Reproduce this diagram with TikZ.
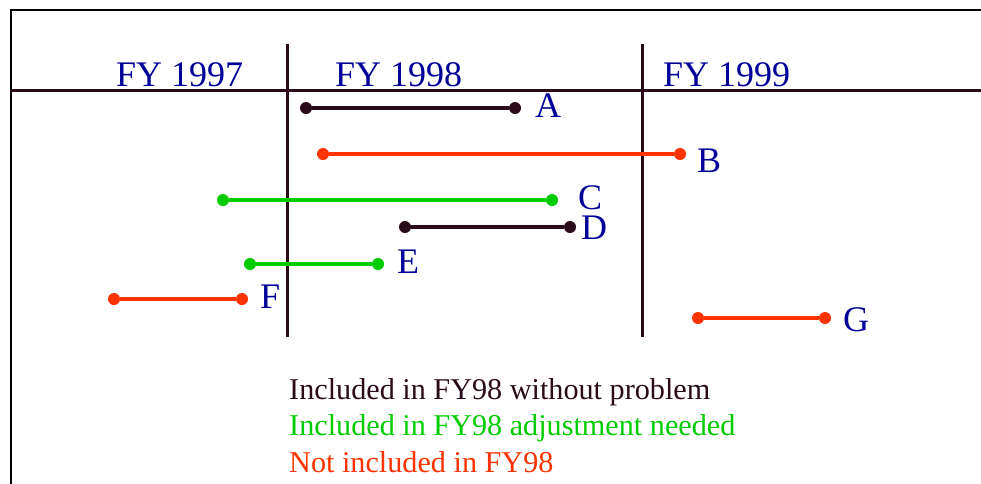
\documentclass[tikz,border=0pt]{standalone}
\usepackage{fontspec}
\setmainfont{Liberation Serif}
\definecolor{dk}{HTML}{2B0A1A}
\definecolor{gr}{HTML}{00CC00}
\definecolor{rd}{HTML}{FF3300}
\definecolor{bl}{HTML}{000099}
\begin{document}
\begin{tikzpicture}[x=1pt,y=-1pt,
  lbl/.style={inner sep=0pt,anchor=base west,text=bl,text height=24pt,text depth=0pt,font=\fontsize{36}{40}\selectfont},
  leg/.style={inner sep=0pt,anchor=base west,font=\fontsize{30.2}{34}\selectfont},
  axis/.style={draw=dk,line width=3pt},
  seg/.style={line width=3.3pt},
  dot/.style={circle,inner sep=0pt,minimum size=12pt}]
\useasboundingbox (0,0) rectangle (981,483);
\begin{scope}
\clip (0,0) rectangle (981,483);
\draw[line width=2.5pt,black] (11,10) rectangle (1000,520);
\end{scope}
% axes
\coordinate (h1) at (11,90);
\coordinate (h2) at (981,90);
\draw[axis] (h1) -- (h2);
\coordinate (v1t) at (287,44); \coordinate (v1b) at (287,337);
\coordinate (v2t) at (642,44); \coordinate (v2b) at (642,337);
\draw[axis] (v1t) -- (v1b);
\draw[axis] (v2t) -- (v2b);
% year labels
\node[lbl] (y97) at (116,86) {FY 1997};
\node[lbl] (y98) at (335,86) {FY 1998};
\node[lbl] (y99) at (663,86) {FY 1999};
% segments
\node[dot,fill=dk] (a1) at (306,108) {};
\node[dot,fill=dk] (a2) at (515,108) {};
\draw[seg,dk] (a1) -- (a2);
\node[lbl] (la) at (535,117) {A};
\node[dot,fill=rd] (b1) at (323,154) {};
\node[dot,fill=rd] (b2) at (680,154) {};
\draw[seg,rd] (b1) -- (b2);
\node[lbl] (lb) at (697,172) {B};
\node[dot,fill=gr] (c1) at (223,200) {};
\node[dot,fill=gr] (c2) at (552,200) {};
\draw[seg,gr] (c1) -- (c2);
\node[lbl] (lc) at (578,209) {C};
\node[dot,fill=dk] (d1) at (405,227) {};
\node[dot,fill=dk] (d2) at (570,227) {};
\draw[seg,dk] (d1) -- (d2);
\node[lbl] (ld) at (581,239) {D};
\node[dot,fill=gr] (e1) at (250,264) {};
\node[dot,fill=gr] (e2) at (378,264) {};
\draw[seg,gr] (e1) -- (e2);
\node[lbl] (le) at (397,273) {E};
\node[dot,fill=rd] (f1) at (114,299) {};
\node[dot,fill=rd] (f2) at (242,299) {};
\draw[seg,rd] (f1) -- (f2);
\node[lbl] (lf) at (260,308) {F};
\node[dot,fill=rd] (g1) at (698,318) {};
\node[dot,fill=rd] (g2) at (825,318) {};
\draw[seg,rd] (g1) -- (g2);
\node[lbl] (lg) at (843,331) {G};
% legend
\node[leg,text=dk] (l1) at (289,399) {Included in FY98 without problem};
\node[leg,text=gr] (l2) at (289,435) {Included in FY98 adjustment needed};
\node[leg,text=rd] (l3) at (289,472) {Not included in FY98};
\end{tikzpicture}
\end{document}
